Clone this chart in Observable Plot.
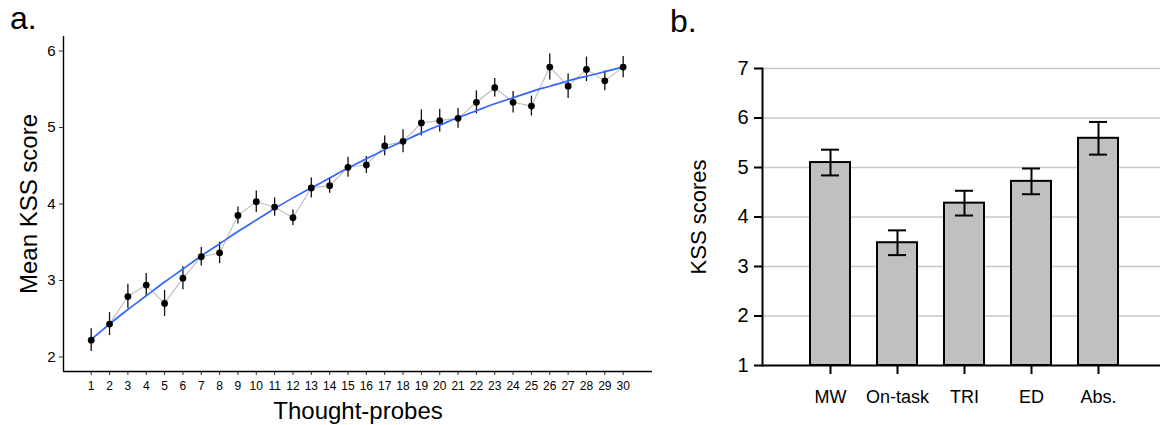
<!DOCTYPE html>
<html>
<head>
<meta charset="utf-8">
<script src="https://cdn.jsdelivr.net/npm/d3@7"></script>
<script src="https://cdn.jsdelivr.net/npm/@observablehq/plot@0.6"></script>
<style>
  html, body { margin: 0; padding: 0; background: #fff; }
  body { font-family: "Liberation Sans", Arial, sans-serif; }
  #wrap { position: relative; width: 1160px; height: 425px; overflow: hidden; }
  #left { position: absolute; left: 0; top: 0; }
  #right { position: absolute; left: 660px; top: 0; }
  .panel { position: absolute; font-size: 32px; line-height: 37px; color: #000; }
</style>
</head>
<body>
<div id="wrap">
  <div id="left"></div>
  <div id="right"></div>
  <div class="panel" style="left:10px; top:0px;">a.</div>
  <div class="panel" style="left:670px; top:3px;">b.</div>
</div>
<script>
// ---- Panel a: mean KSS per thought-probe ----
const probes = [1,2,3,4,5,6,7,8,9,10,11,12,13,14,15,16,17,18,19,20,21,22,23,24,25,26,27,28,29,30];
const meanKSS = [2.22,2.43,2.79,2.94,2.70,3.03,3.31,3.36,3.85,4.03,3.96,3.82,4.21,4.24,4.48,4.51,4.76,4.82,5.06,5.09,5.12,5.33,5.52,5.33,5.28,5.79,5.54,5.76,5.61,5.79];
const semKSS  = [0.15,0.15,0.16,0.15,0.17,0.15,0.12,0.14,0.11,0.14,0.12,0.10,0.13,0.10,0.13,0.11,0.13,0.15,0.17,0.15,0.13,0.15,0.12,0.14,0.13,0.17,0.16,0.16,0.13,0.14];
const smoothKSS = [2.23,2.43,2.62,2.80,2.98,3.15,3.32,3.48,3.64,3.79,3.94,4.08,4.21,4.34,4.47,4.59,4.71,4.82,4.93,5.03,5.13,5.22,5.31,5.39,5.47,5.54,5.61,5.67,5.73,5.79];
const yTicksA = [2,3,4,5,6];
const xDomainA = [-0.51, 31.6];
const yDomainA = [1.81, 6.19];

// ---- Panel b: KSS per attentional state ----
const states = ["MW","On-task","TRI","ED","Abs."];
const stateKSS = [5.10,3.48,4.28,4.72,5.59];
const stateSEM = [0.26,0.25,0.25,0.26,0.33];
const yTicksB = [1,2,3,4,5,6,7];

const font = "Liberation Sans, Arial, sans-serif";
const intFmt = d => String(d);

function setSize(svg, selector, size) {
  svg.querySelectorAll(selector).forEach(g => {
    g.setAttribute("font-size", size);
    g.style.fontSize = size + "px";
    g.querySelectorAll("text").forEach(t => { t.style.fontSize = size + "px"; });
  });
}

const rowsA = probes.map((p,i) => ({probe: p, mean: meanKSS[i], sem: semKSS[i], smooth: smoothKSS[i]}));

const plotA = Plot.plot({
  width: 660, height: 425,
  marginLeft: 63, marginRight: 8, marginTop: 36, marginBottom: 54,
  style: {fontFamily: font, background: "white", color: "#000"},
  x: {type: "linear", domain: xDomainA},
  y: {domain: yDomainA},
  marks: [
    Plot.axisX({ticks: probes, tickFormat: intFmt, tickSize: 4, tickPadding: 6, stroke: "#333",
                label: "Thought-probes", labelAnchor: "center", labelArrow: "none", labelOffset: 47}),
    Plot.axisY({ticks: yTicksA, tickFormat: intFmt, tickSize: 4, tickPadding: 4, stroke: "#333",
                label: "Mean KSS score", labelAnchor: "center", labelArrow: "none", labelOffset: 44}),
    Plot.ruleX([xDomainA[0]], {stroke: "#000", strokeWidth: 1.4}),
    Plot.ruleY([yDomainA[0]], {stroke: "#000", strokeWidth: 1.4}),
    Plot.line(rowsA, {x: "probe", y: "mean", stroke: "#bdbdbd", strokeWidth: 1.1}),
    Plot.ruleX(rowsA, {x: "probe", y1: d => d.mean - d.sem, y2: d => d.mean + d.sem, stroke: "#111", strokeWidth: 1.3}),
    Plot.line(rowsA, {x: "probe", y: "smooth", stroke: "#3366FF", strokeWidth: 1.7, curve: "natural"}),
    Plot.dot(rowsA, {x: "probe", y: "mean", r: 3.4, fill: "#000", stroke: "none"})
  ]
});
setSize(plotA, '[aria-label="x-axis tick label"]', 12);
setSize(plotA, '[aria-label="y-axis tick label"]', 15);
setSize(plotA, '[aria-label="x-axis label"], [aria-label="y-axis label"]', 24);
document.getElementById("left").appendChild(plotA);

const rowsB = states.map((s,i) => ({state: s, kss: stateKSS[i], sem: stateSEM[i]}));

const plotB = Plot.plot({
  width: 500, height: 425,
  marginLeft: 102, marginRight: 0, marginTop: 68, marginBottom: 60,
  style: {fontFamily: font, background: "white", color: "#000"},
  x: {type: "band", domain: states, paddingInner: 0.4, paddingOuter: 0.67, align: 0.53},
  y: {domain: [yTicksB[0], yTicksB[yTicksB.length-1]]},
  marks: [
    Plot.gridY(yTicksB.slice(1), {stroke: "#c8c8c8", strokeOpacity: 1, strokeWidth: 1.6}),
    Plot.barY(rowsB, {x: "state", y1: yTicksB[0], y2: "kss", fill: "#c0c0c0", stroke: "#000", strokeWidth: 2}),
    Plot.ruleX(rowsB, {x: "state", y1: d => d.kss - d.sem, y2: d => d.kss + d.sem, stroke: "#000", strokeWidth: 2}),
    Plot.tickY(rowsB, {x: "state", y: d => d.kss - d.sem, stroke: "#000", strokeWidth: 2, insetLeft: 11, insetRight: 11}),
    Plot.tickY(rowsB, {x: "state", y: d => d.kss + d.sem, stroke: "#000", strokeWidth: 2, insetLeft: 11, insetRight: 11}),
    Plot.ruleY([yTicksB[0]], {stroke: "#000", strokeWidth: 2}),
    Plot.frame({anchor: "left", stroke: "#000", strokeWidth: 2}),
    Plot.axisX({tickSize: 9, tickPadding: 16, stroke: "#000", strokeWidth: 2, label: null}),
    Plot.axisY({ticks: yTicksB, tickFormat: intFmt, tickSize: 8, tickPadding: 6, stroke: "#000", strokeWidth: 2,
                label: "KSS scores", labelAnchor: "center", labelArrow: "none", labelOffset: 72})
  ]
});
setSize(plotB, '[aria-label="x-axis tick label"]', 18);
setSize(plotB, '[aria-label="y-axis tick label"]', 20);
setSize(plotB, '[aria-label="y-axis label"]', 22);
document.getElementById("right").appendChild(plotB);
</script>
</body>
</html>
